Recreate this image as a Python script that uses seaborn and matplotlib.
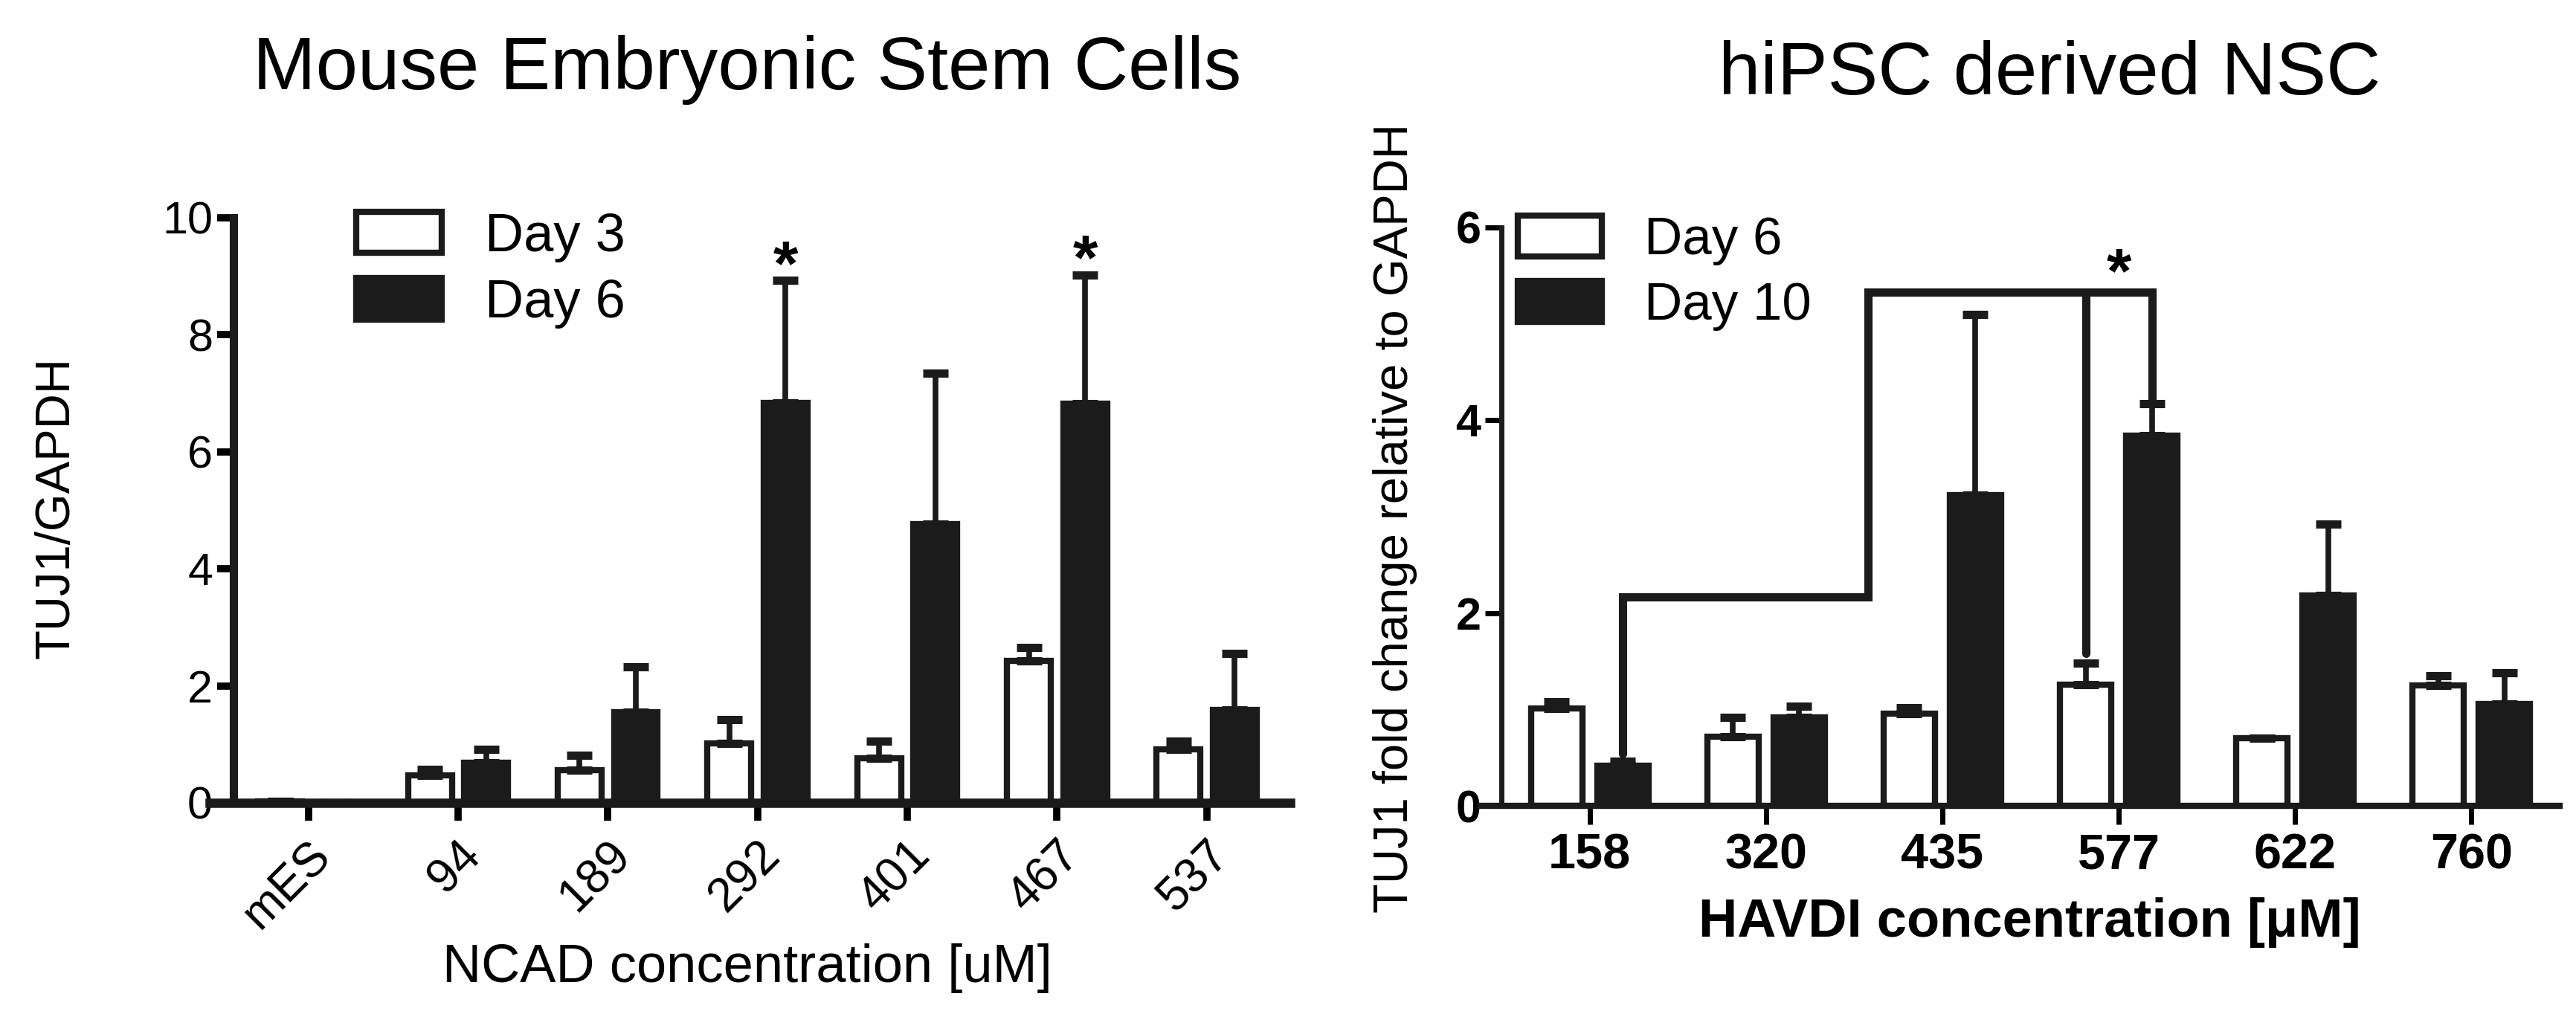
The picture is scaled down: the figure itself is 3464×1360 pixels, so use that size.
import numpy as np
import pandas as pd
import matplotlib.pyplot as plt
import seaborn as sns

# Left panel: mouse embryonic stem cells, NCAD peptide
ncad_conc = ['mES', '94', '189', '292', '401', '467', '537']
ncad_days = ['Day 3', 'Day 6']
ncad_day3 = [0.03, 0.47, 0.56, 1.01, 0.76, 2.43, 0.91]
ncad_day3_err = [0.0, 0.10, 0.25, 0.41, 0.30, 0.22, 0.15]
ncad_day6 = [0.0, 0.69, 1.55, 6.84, 4.77, 6.82, 1.59]
ncad_day6_err = [0.0, 0.22, 0.78, 2.09, 2.58, 2.20, 0.96]
ncad_star_conc = ['292', '467']

# Right panel: hiPSC derived NSC, HAVDI peptide
havdi_conc = ['158', '320', '435', '577', '622', '760']
havdi_days = ['Day 6', 'Day 10']
havdi_day6 = [1.01, 0.72, 0.96, 1.26, 0.70, 1.25]
havdi_day6_err = [0.07, 0.20, 0.06, 0.22, 0.0, 0.10]
havdi_day10 = [0.42, 0.92, 3.22, 3.84, 2.18, 1.06]
havdi_day10_err = [0.04, 0.11, 1.88, 0.33, 0.74, 0.32]

# significance bracket levels (right panel)
bracket_low = 2.17
bracket_high = 5.33
bracket_step_x = 1.58

sns.set_style('ticks')
plt.rcParams['font.family'] = ['Liberation Sans', 'DejaVu Sans']
plt.rcParams.update({'text.color': 'black', 'axes.labelcolor': 'black',
                     'xtick.color': 'black', 'ytick.color': 'black',
                     'axes.edgecolor': 'black'})

BLACK = '#1b1b1b'


def draw_panel(ax, conc, days, vals, errs, spine_lw):
    rows = []
    for d, v in zip(days, vals):
        for c, y in zip(conc, v):
            rows.append({'conc': c, 'day': d, 'value': y})
    df = pd.DataFrame(rows)
    sns.barplot(data=df, x='conc', y='value', hue='day', order=conc,
                hue_order=days, palette=dict(zip(days, ['white', BLACK])),
                edgecolor=BLACK, linewidth=6, width=0.75, gap=0.22,
                saturation=1, errorbar=None, ax=ax)
    centers = []
    for cont, v, e in zip(ax.containers, vals, errs):
        xs = [b.get_x() + b.get_width() / 2 for b in cont]
        centers.append(xs)
        ax.errorbar(xs, v, yerr=[np.zeros(len(e)), e], fmt='none',
                    ecolor=BLACK, elinewidth=5.5, capsize=12, capthick=8,
                    zorder=3)
    sns.despine(ax=ax)
    ax.spines['left'].set_linewidth(spine_lw)
    ax.spines['bottom'].set_linewidth(spine_lw + 1)
    ax.spines['left'].set_color(BLACK)
    ax.spines['bottom'].set_color(BLACK)
    ax.set_xlabel('')
    ax.set_ylabel('')
    return centers


def star(ax, x, y):
    # asterisk glyph sits above the baseline, so pull it down a little
    ax.annotate('*', (x, y), xytext=(0, -4), textcoords='offset points',
                ha='center', va='baseline', fontsize=62, fontweight='bold')


fig = plt.figure(figsize=(34.64, 13.6), dpi=100)

# ---- left panel ----
ax1 = fig.add_axes([0.0906, 0.2059, 0.4104, 0.5787])
c1 = draw_panel(ax1, ncad_conc, ncad_days, [ncad_day3, ncad_day6],
                [ncad_day3_err, ncad_day6_err], 8)
ax1.set_xlim(-0.5, 6.56)
ax1.set_ylim(0, 10)
ax1.spines['bottom'].set_bounds(-0.66, 6.56)
ax1.set_yticks(range(0, 11, 2))
ax1.tick_params(axis='y', labelsize=44, length=16, width=7, pad=4)
ax1.tick_params(axis='x', labelsize=46, length=17, width=7, pad=12)
ax1.set_xticks(range(len(ncad_conc)))
ax1.set_xticklabels(ncad_conc, rotation=45, ha='right', rotation_mode='anchor')
for c in ncad_star_conc:
    i = ncad_conc.index(c)
    star(ax1, c1[1][i], ncad_day6[i] + ncad_day6_err[i])
h, l = ax1.get_legend_handles_labels()
ax1.legend(h, l, loc='upper left', bbox_to_anchor=(0.116, 1.01), frameon=False,
           fontsize=52, handlelength=1.6, handleheight=0.8, labelspacing=0.3,
           handletextpad=0.8, borderpad=0, borderaxespad=0)

fig.text(0.290, 0.912, 'Mouse Embryonic Stem Cells', ha='center',
         va='baseline', fontsize=73)
fig.text(0.0219, 0.4978, 'TUJ1/GAPDH', rotation=90, ha='center',
         va='center', fontsize=47)
fig.text(0.290, 0.0287, 'NCAD concentration [uM]', ha='center',
         va='baseline', fontsize=52)

# ---- right panel ----
ax2 = fig.add_axes([0.5829, 0.2029, 0.4107, 0.5721])
c2 = draw_panel(ax2, havdi_conc, havdi_days, [havdi_day6, havdi_day10],
                [havdi_day6_err, havdi_day10_err], 5)
ax2.set_xlim(-0.5, 5.5)
ax2.set_ylim(0, 6)
ax2.spines['bottom'].set_bounds(-0.62, 5.5)
ax2.set_yticks(range(0, 7, 2))
ax2.tick_params(axis='y', labelsize=44, length=16, width=5, pad=4)
ax2.tick_params(axis='x', labelsize=48, length=18, width=5, pad=8)
for t in ax2.get_xticklabels() + ax2.get_yticklabels():
    t.set_fontweight('bold')

# significance bracket: 158 Day 10 vs 577 Day 10, with 577 Day 6 drop
i158 = havdi_conc.index('158')
i577 = havdi_conc.index('577')
x_a = c2[1][i158]
y_a = havdi_day10[i158] + havdi_day10_err[i158] + 0.08
x_b = c2[1][i577]
y_b = havdi_day10[i577] + havdi_day10_err[i577]
x_c = c2[0][i577]
y_c = havdi_day6[i577] + havdi_day6_err[i577] + 0.1
ax2.plot([x_a, x_a, bracket_step_x, bracket_step_x, x_b, x_b],
         [y_a, bracket_low, bracket_low, bracket_high, bracket_high, y_b],
         color=BLACK, lw=8, solid_joinstyle='miter', solid_capstyle='round',
         zorder=4)
ax2.plot([x_c, x_c], [bracket_high, y_c], color=BLACK, lw=8,
         solid_capstyle='round', zorder=4)
star(ax2, i577, bracket_high + 0.04)

h, l = ax2.get_legend_handles_labels()
ax2.legend(h, l, loc='upper left', bbox_to_anchor=(0.015, 1.02), frameon=False,
           fontsize=51, handlelength=1.6, handleheight=0.8, labelspacing=0.3,
           handletextpad=0.8, borderpad=0, borderaxespad=0)

fig.text(0.7957, 0.9066, 'hiPSC derived NSC', ha='center', va='baseline',
         fontsize=73)
fig.text(0.5416, 0.4875, 'TUJ1 fold change relative to GAPDH', rotation=90,
         ha='center', va='center', fontsize=47)
fig.text(0.788, 0.0735, 'HAVDI concentration [\u03bcM]', ha='center',
         va='baseline', fontsize=52, fontweight='bold')

fig.savefig('out.png', dpi=100)
